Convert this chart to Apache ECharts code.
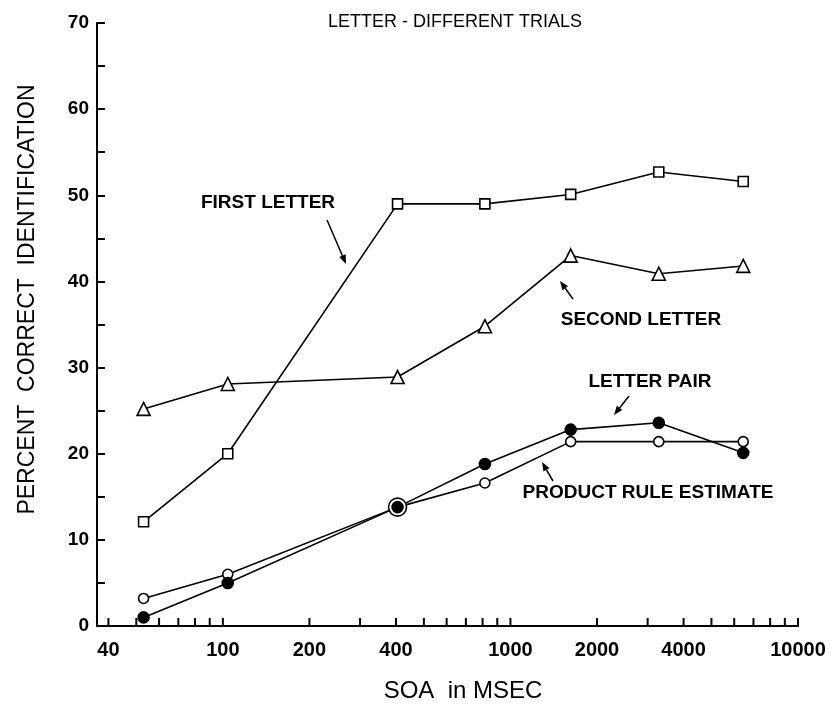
<!DOCTYPE html>
<html>
<head>
<meta charset="utf-8">
<script src="https://cdn.jsdelivr.net/npm/echarts@6/dist/echarts.min.js"></script>
<style>
  html, body { margin: 0; background: #fff; }
  #chart { width: 835px; height: 710px; }
</style>
</head>
<body>
<div id="chart"></div>
<script>
// SOA values (msec) shared by all four curves
const soa = [53, 104, 405, 815, 1620, 3280, 6450]
const firstLetter = [12.1, 20.0, 49.0, 49.0, 50.1, 52.7, 51.6]
const secondLetter = [25.2, 28.1, 28.9, 34.8, 43.0, 40.9, 41.8]
const letterPair = [1.0, 5.0, 13.8, 18.8, 22.8, 23.6, 20.1]
const productRule = [3.2, 6.0, 13.8, 16.6, 21.4, 21.4, 21.4]

// log axis ticks drawn by hand (echarts only ticks whole decades)
const xTicks = [40, 50, 60, 70, 80, 90, 100, 200, 300, 400, 500, 600, 700, 800, 900,
  1000, 2000, 3000, 4000, 5000, 6000, 7000, 8000, 9000, 10000]
const xTickLabels = [40, 100, 200, 400, 1000, 2000, 4000, 10000]

const FONT = '"Liberation Sans", Arial, Helvetica, sans-serif'

const pairs = (ys) => soa.map((x, i) => [x, ys[i]])

const arrow = (from, to) => {
  const a = Math.atan2(to[1] - from[1], to[0] - from[0])
  const len = 9, w = 3.5
  const bx = to[0] - len * Math.cos(a), by = to[1] - len * Math.sin(a)
  return [
    { type: 'line', shape: { x1: from[0], y1: from[1], x2: bx, y2: by }, style: { stroke: '#000', lineWidth: 1.5 } },
    {
      type: 'polygon',
      shape: { points: [to, [bx - w * Math.sin(a), by + w * Math.cos(a)], [bx + w * Math.sin(a), by - w * Math.cos(a)]] },
      style: { fill: '#000' }
    }
  ]
}

const notes = [
  { text: 'FIRST LETTER', x: 268, y: 203, from: [327, 220], to: [346, 264] },
  { text: 'SECOND LETTER', x: 641, y: 320, from: [573, 299], to: [560, 281] },
  { text: 'LETTER PAIR', x: 650, y: 382, from: [629, 396], to: [614, 415] },
  { text: 'PRODUCT RULE ESTIMATE', x: 648, y: 493, from: [553, 481], to: [542, 462] }
]

const graphic = []
notes.forEach((n) => {
  graphic.push({
    type: 'text', x: n.x, y: n.y,
    style: { text: n.text, fill: '#000', font: 'bold 19px ' + FONT, align: 'center', verticalAlign: 'middle' }
  })
  graphic.push(...arrow(n.from, n.to))
})

const lineSeries = (name, ys, symbol, size, fill) => ({
  name,
  type: 'line',
  data: pairs(ys),
  symbol,
  symbolSize: size,
  showAllSymbol: true,
  lineStyle: { color: '#000', width: 1.6 },
  itemStyle: { color: fill, borderColor: '#000', borderWidth: 1.6 },
  z: 3
})

const chart = echarts.init(document.getElementById('chart'))
chart.setOption({
  backgroundColor: '#fff',
  animation: false,
  title: {
    text: 'LETTER - DIFFERENT TRIALS',
    left: 323,
    top: 8,
    textStyle: { color: '#000', fontSize: 18, fontWeight: 'normal', fontFamily: FONT }
  },
  grid: { left: 97, right: 37, top: 23, bottom: 84 },
  xAxis: {
    type: 'log',
    min: 36.5,
    max: 10000,
    axisLine: { show: true, lineStyle: { color: '#000', width: 2 } },
    axisTick: { show: false },
    axisLabel: { show: false },
    splitLine: { show: false },
    name: 'SOA  in MSEC',
    nameLocation: 'middle',
    nameGap: 53,
    nameTextStyle: { color: '#000', fontSize: 24, fontFamily: FONT, padding: [0, 0, 0, 31] }
  },
  yAxis: {
    type: 'value',
    min: 0,
    max: 70,
    interval: 5,
    axisLine: { show: true, lineStyle: { color: '#000', width: 2 } },
    axisTick: { show: true, inside: true, length: 8, lineStyle: { color: '#000', width: 2 } },
    axisLabel: {
      formatter: (v) => (v % 10 === 0 ? String(v) : ''),
      color: '#000', fontSize: 19, fontWeight: 'bold', fontFamily: FONT, margin: 8
    },
    splitLine: { show: false },
    name: 'PERCENT  CORRECT  IDENTIFICATION',
    nameLocation: 'middle',
    nameGap: 58,
    nameTextStyle: { color: '#000', fontSize: 23, fontFamily: FONT, padding: [0, 0, 0, 50] }
  },
  graphic,
  series: [
    {
      type: 'custom',
      silent: true,
      clip: false,
      data: xTicks.map((v) => [v, 0]),
      renderItem: (params, api) => {
        const v = api.value(0)
        const p = api.coord([v, 0])
        const children = [{
          type: 'line',
          shape: { x1: p[0], y1: p[1], x2: p[0], y2: p[1] - 8 },
          style: { stroke: '#000', lineWidth: 2 }
        }]
        if (xTickLabels.includes(v)) {
          children.push({
            type: 'text', x: p[0], y: p[1] + 24,
            style: { text: String(v), fill: '#000', font: 'bold 20px ' + FONT, align: 'center', verticalAlign: 'middle' }
          })
        }
        return { type: 'group', children }
      }
    },
    lineSeries('First letter', firstLetter, 'rect', 10, '#fff'),
    lineSeries('Second letter', secondLetter, 'triangle', 13, '#fff'),
    (() => {
      const s = lineSeries('Product rule estimate', productRule, 'circle', 10, '#fff')
      // the 400 msec point is drawn as a ring round the letter-pair dot
      s.data[2] = { value: s.data[2], symbolSize: 18 }
      return s
    })(),
    lineSeries('Letter pair', letterPair, 'circle', 11, '#000')
  ]
})
</script>
</body>
</html>
